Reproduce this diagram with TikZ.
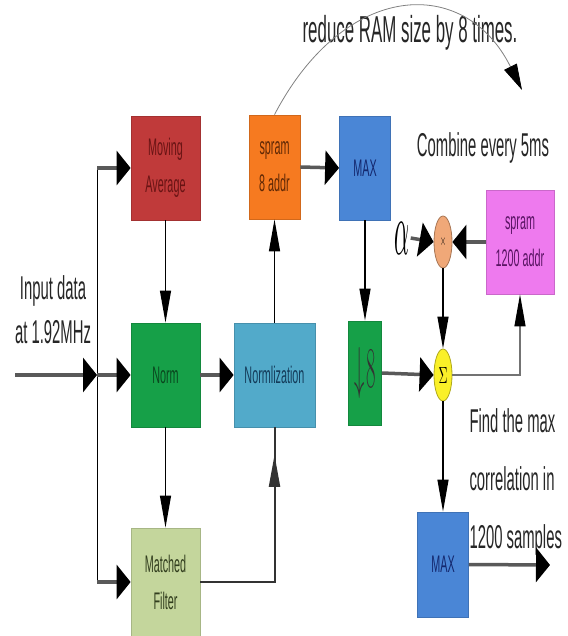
\documentclass[tikz,border=0pt]{standalone}
\usepackage{fontspec}
\setmainfont{Liberation Sans}[FakeStretch=0.45]
\usetikzlibrary{positioning,arrows.meta,shapes.geometric,decorations.markings}
\definecolor{mavred}{RGB}{192,58,58}
\definecolor{mavtxt}{RGB}{105,20,20}
\definecolor{spramorange}{RGB}{246,122,32}
\definecolor{spramtxt}{RGB}{95,40,5}
\definecolor{maxblue}{RGB}{74,134,214}
\definecolor{maxtxt}{RGB}{20,40,110}
\definecolor{normgreen}{RGB}{22,160,72}
\definecolor{normtxt}{RGB}{10,70,30}
\definecolor{nlzblue}{RGB}{82,170,202}
\definecolor{nlztxt}{RGB}{20,60,90}
\definecolor{mfgreen}{RGB}{196,214,156}
\definecolor{mftxt}{RGB}{50,62,30}
\definecolor{pinkram}{RGB}{238,122,238}
\definecolor{pinktxt}{RGB}{90,20,100}
\definecolor{peach}{RGB}{240,168,120}
\definecolor{sumyellow}{RGB}{250,240,40}

\begin{document}
\begin{tikzpicture}[x=1pt,y=-1pt,
  blk/.style={fill=#1, draw=#1!85!black, line width=0.8pt, inner sep=0pt,
    minimum width=69pt, minimum height=104pt, align=center,
    font=\fontsize{24}{37}\selectfont},
  note/.style={text=black!85, font=\fontsize{33}{58}\selectfont, align=left},
  junc/.style={ellipse, fill=#1, draw=#1!70!black, line width=0.8pt,
    minimum width=18pt, minimum height=52pt, inner sep=0pt},
  hflow/.style={draw=black!65, line width=3.5pt,
    -{Triangle[length=14pt,width=34pt,color=black]}},
  vflow/.style={draw=black, line width=1.2pt,
    -{Triangle[length=32pt,width=11pt,color=black]}}]
  \useasboundingbox (0,0) rectangle (567,636);

  % ── Blocks ──
  \node[blk=mavred, text=mavtxt] (movavg) at (165.5,168) {Moving\\Average};
  \node[blk=spramorange, text=spramtxt, minimum width=51pt] (spram8) at (274.5,167) {spram\\8 addr};
  \node[blk=maxblue, text=maxtxt, minimum width=51pt] (max1) at (365,168) {MAX};

  \node[blk=normgreen, text=normtxt] (norm) at (165.5,375) {Norm};
  \node[blk=nlzblue, text=nlztxt, minimum width=81pt] (normliz) at (274.5,375) {Normlization};
  \node[blk=normgreen, text=black!80, minimum width=33pt] (down8) at (365,373) {\resizebox{22pt}{40pt}{$\downarrow\!8$}};

  \node[blk=mfgreen, text=mftxt, minimum height=108pt] (mf) at (165.5,582) {Matched\\Filter};
  \node[blk=maxblue, text=maxtxt, minimum width=51pt, minimum height=105pt] (max2) at (443,564.5) {MAX};

  \node[blk=pinkram, text=pinktxt, minimum width=68pt] (spram1200) at (520,242) {spram\\1200 addr};
  \node[junc=peach] (mult) at (443,242) {\resizebox{6pt}{9pt}{$\times$}};
  \node[junc=sumyellow] (sum) at (443,375) {\resizebox{9pt}{16pt}{$\Sigma$}};
  \node[inner sep=1pt] (alpha) at (402,238) {\resizebox{15pt}{32pt}{$\alpha$}};

  % ── Notes ──
  \node[note, font=\fontsize{37.5}{40}\selectfont] (ramnote) at (410,33) {reduce RAM size by 8 times.};
  \node[note] (combnote) at (483,148) {Combine every 5ms};
  \node[note, anchor=west] (findnote) at (466,482) {Find the max\\correlation in\\1200 samples};
  \node[note, align=center, font=\fontsize{33}{44}\selectfont] (innote) at (53,310) {Input data\\at 1.92MHz};

  % ── Free ends ──
  \coordinate (in) at (15,375);
  \coordinate (split) at (97,375);
  \coordinate (out) at (550,565);
  \coordinate (ramtip) at (522,90);

  % ── Input fan-out ──
  \draw[hflow] (in) -- (split);
  \draw[black, line width=1pt] (split |- movavg.west) -- (split |- mf.west);
  \draw[hflow] (split |- movavg.west) -- (movavg.west);
  \draw[hflow] (split) -- (norm.west);
  \draw[hflow] (split |- mf.west) -- (mf.west);

  % ── Left chain ──
  \draw[vflow] (movavg.south) -- (norm.north);
  \draw[vflow] (norm.south) -- (mf.north);
  \draw[hflow] (norm.east) -- (normliz.west);
  \draw[draw=black!80, line width=2pt,
        decoration={markings, mark=at position 0.88 with {\arrow{Triangle[length=32pt,width=11pt]}}},
        postaction={decorate}] (mf.east) -| (normliz.south);
  \draw[vflow] (normliz.north) -- (spram8.south);
  \draw[hflow] (spram8.east) -- (max1.west);
  \draw[vflow] (max1.south) -- (down8.north);

  % ── Combining loop ──
  \draw[hflow] (down8.east) -- (sum.west);
  \draw[vflow, draw=black!55] (sum.east) -| (spram1200.south);
  \draw[hflow] (spram1200.west) -- (mult.east);
  \draw[hflow] (alpha.east) -- (mult.west);
  \draw[vflow] (mult.south) -- (sum.north);
  \draw[vflow] (sum.south) -- (max2.north);
  \draw[hflow] (max2.east) -- (out);

  % ── RAM note ──
  \draw[black!50, line width=0.8pt, -{Triangle[length=26pt,width=14pt,color=black]}]
    (spram8.north) .. controls (345,-20) and (465,-25) .. (ramtip);
\end{tikzpicture}
\end{document}
